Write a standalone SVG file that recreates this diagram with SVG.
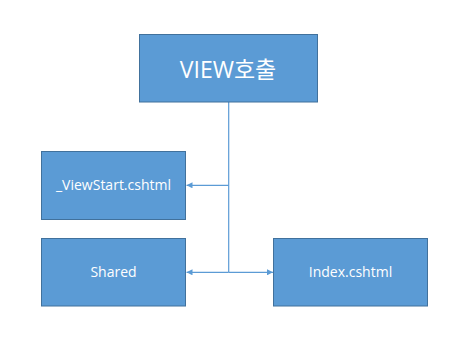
<svg xmlns="http://www.w3.org/2000/svg" width="472" height="341" viewBox="0 0 472 341">
<style>
.box{fill:#5B9BD5;stroke:#41719C;stroke-width:1}
.lbl{fill:#ffffff;font-family:"Open Sans","Noto Sans CJK KR",sans-serif;text-anchor:middle}
.conn{stroke:#5B9BD5;stroke-width:1.2;fill:none}
</style>
<defs>
<marker id="arr" viewBox="0 0 10 10" refX="10" refY="5" markerWidth="6" markerHeight="6" markerUnits="userSpaceOnUse" orient="auto">
<path d="M0,0 L10,5 L0,10 Z" fill="#5B9BD5"/>
</marker>
</defs>
<rect width="472" height="341" fill="#ffffff"/>
<g id="connectors">
<line class="conn" x1="228.7" y1="102" x2="228.7" y2="272.3"/>
<line class="conn" x1="228.7" y1="185.3" x2="186.5" y2="185.3" marker-end="url(#arr)"/>
<line class="conn" x1="228.7" y1="272.3" x2="186.5" y2="272.3" marker-end="url(#arr)"/>
<line class="conn" x1="228.7" y1="272.3" x2="273" y2="272.3" marker-end="url(#arr)"/>
</g>
<g id="view">
<rect class="box" x="139.5" y="34.5" width="178" height="67.5"/>
<text class="lbl" x="228" y="78" font-size="23">VIEW호출</text>
</g>
<g id="viewstart">
<rect class="box" x="41.5" y="151.5" width="144" height="68"/>
<text class="lbl" x="113.5" y="190" font-size="14">_ViewStart.cshtml</text>
</g>
<g id="shared">
<rect class="box" x="41.5" y="238.5" width="144" height="67.5"/>
<text class="lbl" x="113.5" y="277" font-size="14">Shared</text>
</g>
<g id="index">
<rect class="box" x="273.5" y="238.5" width="154" height="67.5"/>
<text class="lbl" x="350.5" y="277" font-size="14">Index.cshtml</text>
</g>
</svg>
